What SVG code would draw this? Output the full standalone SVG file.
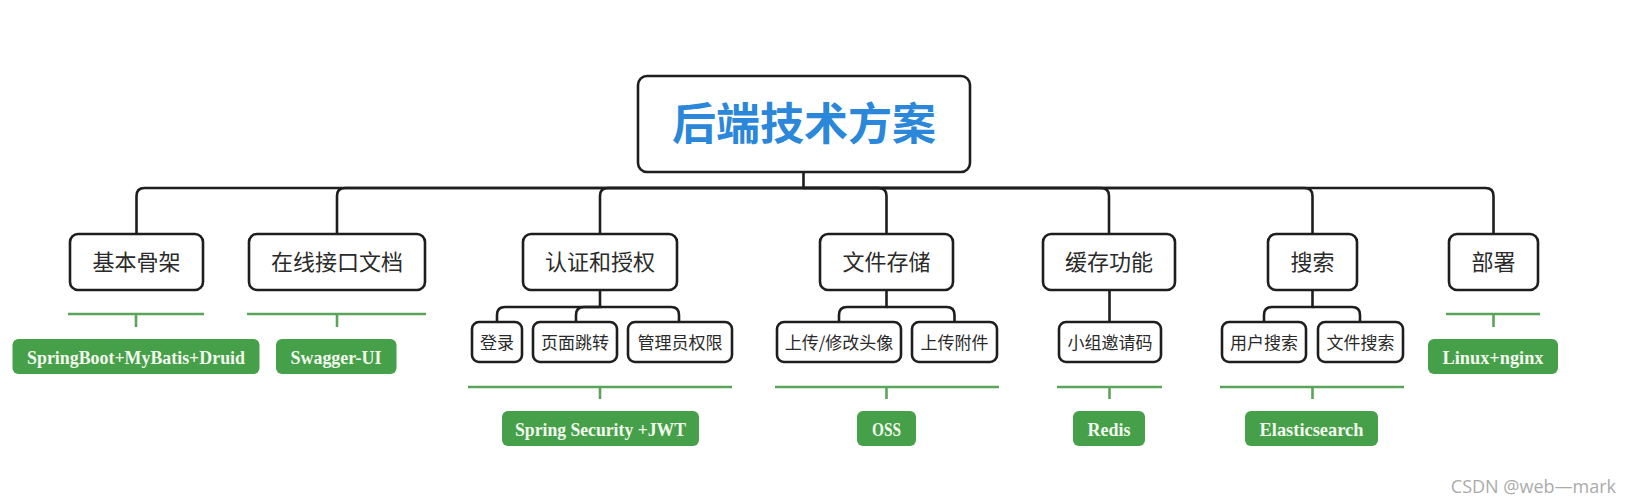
<svg xmlns="http://www.w3.org/2000/svg" width="1632" height="504" viewBox="0 0 1632 504">
<style>
.box{fill:#fff;stroke:#1e1e1e;stroke-width:2.6}
.conn{fill:none;stroke:#1e1e1e;stroke-width:2.6}
.gl{fill:none;stroke:#5aa55a;stroke-width:2.6}
.gbox{fill:#46a049}
.t1{font-family:"Noto Sans CJK SC","Noto Sans",sans-serif;font-size:22px;fill:#2a2a2a;text-anchor:middle}
.t2{font-family:"Noto Sans CJK SC","Noto Sans",sans-serif;font-size:17px;fill:#2a2a2a;text-anchor:middle}
.tg{font-family:"Liberation Serif",serif;font-weight:bold;font-size:19px;fill:#f2f8ee;text-anchor:middle}
.title{font-family:"Noto Sans CJK SC","Noto Sans",sans-serif;font-weight:bold;font-size:44px;fill:#2a87d9;text-anchor:middle}
.wm{font-family:"Open Sans","Noto Sans",sans-serif;font-size:18px;fill:#ababab;text-anchor:end}
</style>
<rect width="1632" height="504" fill="#fff"/>
<g id="connectors">
<path class="conn" d="M803.5 172V188H144.5Q136.5 188 136.5 196V234"/>
<path class="conn" d="M803.5 188H345Q337 188 337 196V234"/>
<path class="conn" d="M803.5 188H608Q600 188 600 196V234"/>
<path class="conn" d="M803.5 188H878.5Q886.5 188 886.5 196V234"/>
<path class="conn" d="M803.5 188H1101Q1109 188 1109 196V234"/>
<path class="conn" d="M803.5 188H1304.5Q1312.5 188 1312.5 196V234"/>
<path class="conn" d="M803.5 188H1485.5Q1493.5 188 1493.5 196V234"/>
<path class="conn" d="M600 290V307H505Q497 307 497 315V322"/>
<path class="conn" d="M600 307H584Q576 307 576 315V322"/>
<path class="conn" d="M600 307H671Q679 307 679 315V322"/>
<path class="conn" d="M886.5 290V307H847Q839 307 839 315V322"/>
<path class="conn" d="M886.5 307H946.5Q954.5 307 954.5 315V322"/>
<path class="conn" d="M1109.5 290V322"/>
<path class="conn" d="M1312.5 290V307H1272Q1264 307 1264 315V322"/>
<path class="conn" d="M1312.5 307H1352Q1360 307 1360 315V322"/>
</g>
<g id="root">
<rect class="box" x="638" y="76" width="332" height="96" rx="9"/>
<text class="title" x="804" y="140">后端技术方案</text>
</g>
<g id="n-jiben">
<rect class="box" x="70" y="234" width="133" height="56" rx="8"/>
<text class="t1" x="136.5" y="270">基本骨架</text>
<path class="gl" d="M68 314H204M136 314V327"/>
<rect class="gbox" x="12.5" y="339" width="247" height="35" rx="6"/>
<text class="tg" x="136" y="364" textLength="218" lengthAdjust="spacingAndGlyphs">SpringBoot+MyBatis+Druid</text>
</g>
<g id="n-doc">
<rect class="box" x="249" y="234" width="176" height="56" rx="8"/>
<text class="t1" x="337" y="270">在线接口文档</text>
<path class="gl" d="M247 314H426M337 314V327"/>
<rect class="gbox" x="276" y="339" width="120.5" height="35" rx="6"/>
<text class="tg" x="336" y="364" textLength="91" lengthAdjust="spacingAndGlyphs">Swagger-UI</text>
</g>
<g id="n-auth">
<rect class="box" x="523" y="234" width="154" height="56" rx="8"/>
<text class="t1" x="600" y="270">认证和授权</text>
</g>
<g id="n-login">
<rect class="box" x="472" y="322" width="50" height="40" rx="7"/>
<text class="t2" x="497" y="348.5">登录</text>
</g>
<g id="n-page">
<rect class="box" x="533" y="322" width="84" height="40" rx="7"/>
<text class="t2" x="575" y="348.5">页面跳转</text>
</g>
<g id="n-admin">
<rect class="box" x="628" y="322" width="104" height="40" rx="7"/>
<text class="t2" x="680" y="348.5">管理员权限</text>
</g>
<g id="n-auth-tech">
<path class="gl" d="M468 387H732M600 387V399"/>
<rect class="gbox" x="502" y="411" width="197" height="35" rx="6"/>
<text class="tg" x="600.5" y="435.5" textLength="171" lengthAdjust="spacingAndGlyphs">Spring Security +JWT</text>
</g>
<g id="n-file">
<rect class="box" x="820" y="234" width="133" height="56" rx="8"/>
<text class="t1" x="886.5" y="270">文件存储</text>
</g>
<g id="n-avatar">
<rect class="box" x="777" y="322" width="124" height="40" rx="7"/>
<text class="t2" x="839" y="348.5">上传/修改头像</text>
</g>
<g id="n-attach">
<rect class="box" x="912" y="322" width="85" height="40" rx="7"/>
<text class="t2" x="954.5" y="348.5">上传附件</text>
</g>
<g id="n-file-tech">
<path class="gl" d="M775 387H999M886.5 387V399"/>
<rect class="gbox" x="857" y="411" width="59" height="35" rx="6"/>
<text class="tg" x="886.5" y="435.5" textLength="29" lengthAdjust="spacingAndGlyphs">OSS</text>
</g>
<g id="n-cache">
<rect class="box" x="1043" y="234" width="132" height="56" rx="8"/>
<text class="t1" x="1109" y="270">缓存功能</text>
</g>
<g id="n-invite">
<rect class="box" x="1059" y="322" width="102" height="40" rx="7"/>
<text class="t2" x="1110" y="348.5">小组邀请码</text>
</g>
<g id="n-cache-tech">
<path class="gl" d="M1057 387H1162M1109.5 387V399"/>
<rect class="gbox" x="1073" y="411" width="72" height="35" rx="6"/>
<text class="tg" x="1109" y="435.5" textLength="43" lengthAdjust="spacingAndGlyphs">Redis</text>
</g>
<g id="n-search">
<rect class="box" x="1268" y="234" width="89" height="56" rx="8"/>
<text class="t1" x="1312.5" y="270">搜索</text>
</g>
<g id="n-usersearch">
<rect class="box" x="1222" y="322" width="84" height="40" rx="7"/>
<text class="t2" x="1264" y="348.5">用户搜索</text>
</g>
<g id="n-filesearch">
<rect class="box" x="1318" y="322" width="85" height="40" rx="7"/>
<text class="t2" x="1360.5" y="348.5">文件搜索</text>
</g>
<g id="n-search-tech">
<path class="gl" d="M1220 387H1404M1312.5 387V399"/>
<rect class="gbox" x="1245" y="411" width="133" height="35" rx="6"/>
<text class="tg" x="1311.5" y="435.5" textLength="104" lengthAdjust="spacingAndGlyphs">Elasticsearch</text>
</g>
<g id="n-deploy">
<rect class="box" x="1449" y="234" width="89" height="56" rx="8"/>
<text class="t1" x="1493.5" y="270">部署</text>
<path class="gl" d="M1446 314H1540M1493.5 314V327"/>
<rect class="gbox" x="1428" y="339" width="130" height="35" rx="6"/>
<text class="tg" x="1493" y="364" textLength="101" lengthAdjust="spacingAndGlyphs">Linux+nginx</text>
</g>
<text class="wm" x="1616" y="493">CSDN @web—mark</text>
</svg>
